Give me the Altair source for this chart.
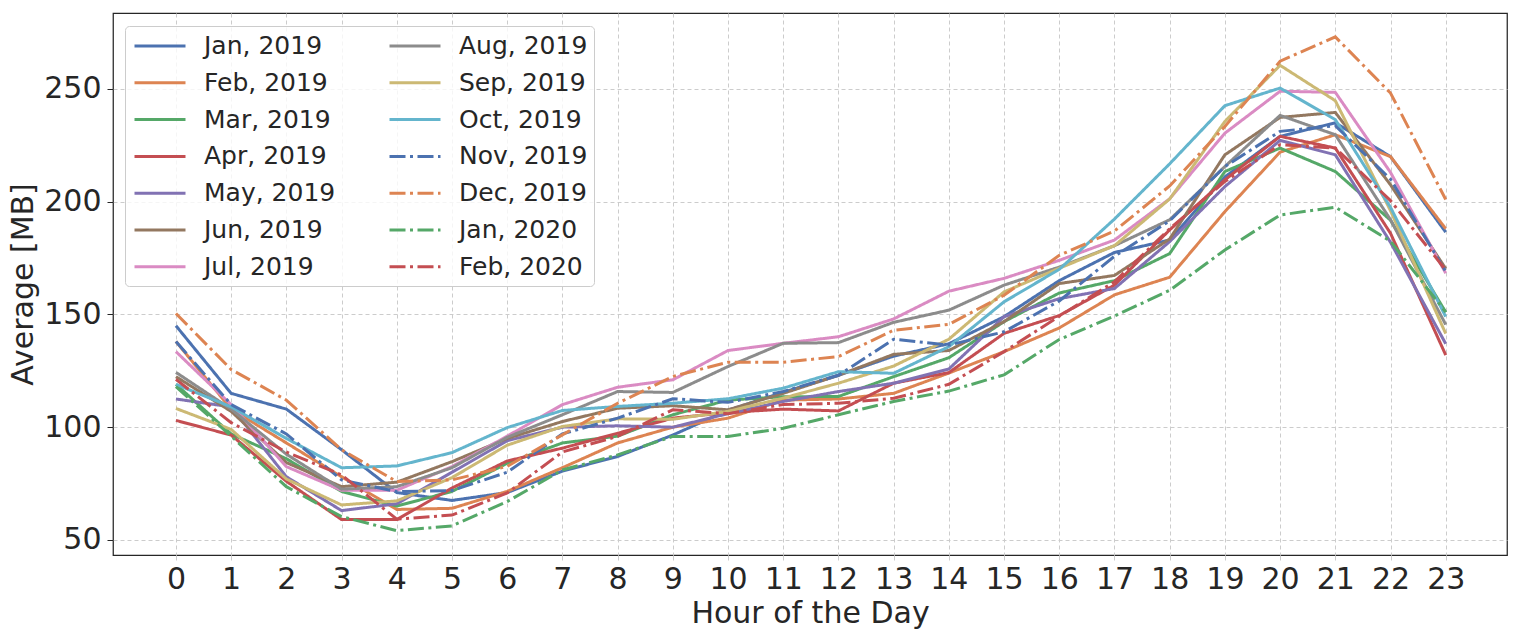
import altair as alt
import pandas as pd

hours = list(range(24))

months = ["Jan, 2019", "Feb, 2019", "Mar, 2019", "Apr, 2019", "May, 2019",
          "Jun, 2019", "Jul, 2019", "Aug, 2019", "Sep, 2019", "Oct, 2019",
          "Nov, 2019", "Dec, 2019", "Jan, 2020", "Feb, 2020"]

jan_2019 = [145, 115, 108, 90, 71, 67.5, 71, 80.5, 87, 96.5, 107.5, 115.5, 123, 131.5, 137, 149, 165, 177.5, 183, 211, 229, 235, 220, 186.5]
feb_2019 = [138, 108, 93, 78, 63.5, 64, 71.5, 82, 93, 100, 104, 112, 112.5, 115, 124, 133.5, 144, 158.7, 166.5, 195.6, 222, 229.7, 220, 188]
mar_2019 = [119, 97, 86, 71.5, 65, 71.5, 84, 93, 96, 105.5, 112, 113.5, 113.6, 122.4, 130.8, 146.8, 159.5, 165, 177, 213.4, 223.8, 213.4, 191.8, 151]
apr_2019 = [103, 96.5, 76, 59, 59, 73, 85, 90.7, 97.3, 104, 106.5, 108, 107.2, 119.5, 124.2, 141.6, 149.5, 163, 187.5, 209.7, 229, 223.8, 186, 132]
may_2019 = [112.5, 109, 78, 63, 66, 80, 94, 100, 100.6, 100, 106, 111.4, 115.8, 119.5, 125.8, 149, 157, 161.5, 182.3, 206.7, 227.2, 220.8, 182, 137]
jun_2019 = [122.4, 107, 84.3, 73.6, 75.6, 84.7, 95, 102.5, 108.4, 109.5, 107.7, 115, 123, 132.3, 134, 146.8, 163.7, 167.3, 183.5, 220.8, 237.4, 239.6, 207.5, 170.3]
jul_2019 = [133.5, 110, 82.5, 72, 72, 82.5, 96, 110, 117.7, 121, 134, 137.2, 140.1, 148, 160.3, 166, 174, 183, 201.3, 230.4, 249, 248.5, 213, 168.3]
aug_2019 = [124.3, 108, 88, 72.5, 73.6, 82, 95.5, 105.5, 115.8, 115.4, 126.9, 137.2, 137.5, 146.5, 151.9, 163, 171, 180.5, 192, 215.6, 238.3, 229.7, 192, 145.5]
sep_2019 = [108.3, 99, 77, 65.5, 67.3, 77.6, 92, 100.3, 103.7, 103.5, 107, 112.9, 119.5, 127.1, 139, 160, 170.5, 180.5, 201.2, 235.6, 260.5, 244.8, 196, 141.5]
oct_2019 = [119, 109, 95, 82, 82.8, 88.7, 99.8, 107.4, 109.2, 110.6, 112.6, 117.3, 124.6, 123.9, 135.7, 155.6, 170, 192.3, 216.8, 242.6, 250.4, 236.4, 197.5, 149]
nov_2019 = [138, 110, 97, 76.6, 71.4, 71.9, 80, 97, 104, 112.6, 111, 115.8, 123, 139, 136.4, 142.3, 156, 175.8, 191.5, 215.6, 231.2, 233.7, 210, 169]
dec_2019 = [150.4, 125.6, 112, 90, 75.9, 76.6, 82.6, 96.6, 110.6, 122.5, 128.8, 128.8, 131.3, 143, 145.6, 158.5, 176.2, 187, 207, 233.4, 262.3, 273.1, 248.2, 201]
jan_2020 = [118, 96, 73.6, 60.3, 54.1, 56.2, 67, 81, 87.7, 95.9, 95.9, 99.5, 105.5, 111.4, 116, 123.2, 138.9, 149.3, 160.7, 178.6, 194.1, 197.6, 182.5, 151]
feb_2020 = [121.2, 102, 89, 78.8, 59.2, 61, 70.8, 89, 95.9, 107.7, 106, 110, 110.6, 112.8, 119, 133.5, 149.2, 164.5, 188, 209, 225.3, 223.8, 200.5, 169.7]

series = [jan_2019, feb_2019, mar_2019, apr_2019, may_2019, jun_2019, jul_2019,
          aug_2019, sep_2019, oct_2019, nov_2019, dec_2019, jan_2020, feb_2020]

colors = ["#4C72B0", "#DD8452", "#55A868", "#C44E52", "#8172B3", "#937860", "#DA8BC3",
          "#8C8C8C", "#CCB974", "#64B5CD", "#4C72B0", "#DD8452", "#55A868", "#C44E52"]
solid = [1, 0]
dashdot = [16, 4.5, 3, 4.5]
dashes = [solid] * 10 + [dashdot] * 4

rows = []
for m, vals in zip(months, series):
    for h, v in zip(hours, vals):
        rows.append({"month": m, "hour": h, "value": v})
df = pd.DataFrame(rows)

FONT = "DejaVu Sans"
TXT = "#262626"

legend = alt.Legend(
    orient="none", legendX=12, legendY=13, columns=2,
    symbolType="M-2.04,0H2.04", symbolSize=625, symbolStrokeWidth=3,
    symbolOffset=15, labelOffset=30, columnPadding=47, rowPadding=9.8,
    labelFont=FONT, labelFontSize=25, labelColor=TXT,
    padding=6, fillColor="rgba(255,255,255,0.8)", strokeColor="#cccccc",
    cornerRadius=4, labelLimit=300,
)

chart = alt.Chart(df).mark_line(strokeWidth=3, clip=True).encode(
    x=alt.X("hour:Q", scale=alt.Scale(domain=[-1.14, 24.11], nice=False, zero=False),
            axis=alt.Axis(values=hours, title="Hour of the Day", format="d")),
    y=alt.Y("value:Q", scale=alt.Scale(domain=[43.3, 283.7], nice=False, zero=False),
            axis=alt.Axis(values=[50, 100, 150, 200, 250], title="Average [MB]")),
    color=alt.Color("month:N", title=None,
                    scale=alt.Scale(domain=months, range=colors),
                    legend=legend),
    strokeDash=alt.StrokeDash("month:N", title=None,
                              scale=alt.Scale(domain=months, range=dashes),
                              legend=legend),
    detail="month:N",
).properties(
    width=1394, height=542,
    autosize=alt.AutoSizeParams(type="none"),
    padding={"left": 105, "top": 5, "right": 6, "bottom": 76},
    background="white",
).configure_view(
    stroke=TXT, strokeWidth=1.25
).configure_axis(
    labelFont=FONT, titleFont=FONT, labelColor=TXT, titleColor=TXT,
    labelFontSize=30, titleFontSize=30, titleFontWeight="normal",
    grid=True, gridColor="#cccccc", gridDash=[4, 3], gridWidth=1,
    domain=False,
).configure_axisY(
    tickColor=TXT, tickSize=6, labelPadding=6, titlePadding=5
).configure_axisX(
    tickColor="#cccccc", tickSize=5, labelPadding=4, titlePadding=4
)

chart.save("out.html", embed_options={"renderer": "svg", "actions": False})
